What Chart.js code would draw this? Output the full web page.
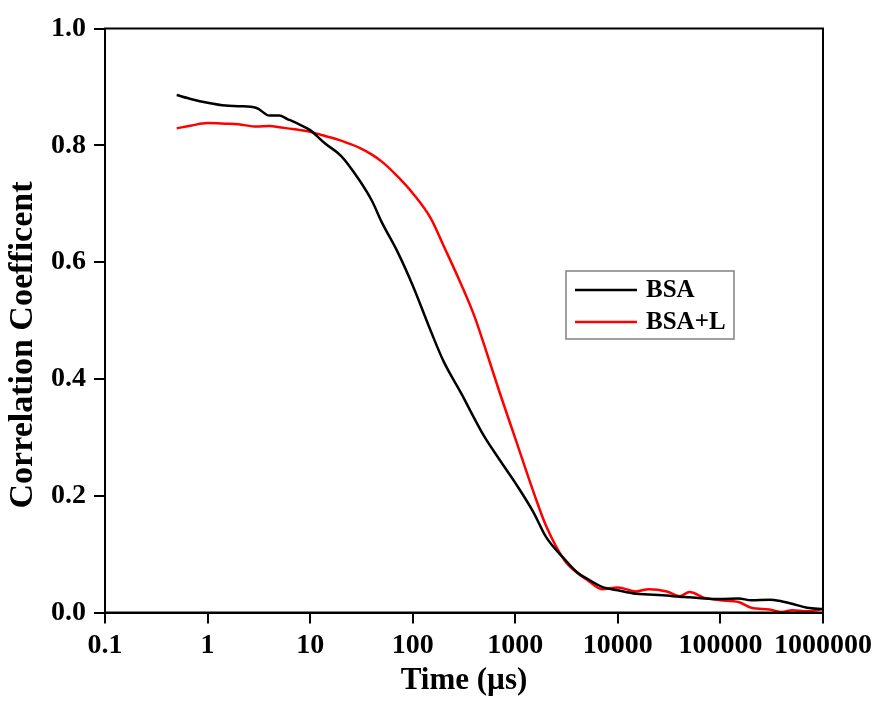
<!DOCTYPE html>
<html>
<head>
<meta charset="utf-8">
<script src="https://cdn.jsdelivr.net/npm/chart.js@4/dist/chart.umd.min.js"></script>
<style>
  html, body { margin: 0; padding: 0; background: #fff; }
  #wrap { width: 875px; height: 705px; position: relative; }
</style>
</head>
<body>
<div id="wrap"><canvas id="dlsChart"></canvas></div>
<script>
/* Global Variables */
let times = [0.5, 0.7, 1, 1.5, 2, 3, 4, 5, 6, 8, 10, 14, 20, 30, 40, 50, 70, 100, 150, 200,
  300, 400, 500, 700, 1000, 1500, 2000, 3000, 4000, 5000, 7000, 10000, 15000, 20000,
  30000, 40000, 50000, 70000, 100000, 150000, 200000, 300000, 400000, 500000, 700000, 1000000];
let bsa = [0.886, 0.879, 0.873, 0.868, 0.867, 0.864, 0.851, 0.851, 0.845, 0.835, 0.826, 0.803,
  0.782, 0.741, 0.705, 0.668, 0.620, 0.560, 0.482, 0.430, 0.374, 0.332, 0.301, 0.262, 0.222,
  0.172, 0.129, 0.092, 0.069, 0.058, 0.044, 0.038, 0.032, 0.031, 0.029, 0.027, 0.026, 0.024,
  0.023, 0.024, 0.021, 0.022, 0.019, 0.015, 0.008, 0.006];
let bsaL = [0.829, 0.834, 0.838, 0.837, 0.836, 0.832, 0.833, 0.831, 0.829, 0.826, 0.823, 0.816,
  0.808, 0.796, 0.784, 0.772, 0.748, 0.718, 0.675, 0.628, 0.560, 0.507, 0.457, 0.378, 0.298,
  0.207, 0.148, 0.090, 0.068, 0.056, 0.040, 0.043, 0.036, 0.040, 0.036, 0.028, 0.035, 0.025,
  0.021, 0.018, 0.008, 0.005, 0.001, 0.004, 0.002, 0.006];
let seriesNames = ['BSA', 'BSA+L'];
let seriesColors = ['#000000', '#ff0000'];
let xTicks = [0.1, 1, 10, 100, 1000, 10000, 100000, 1000000];
let xTickLabels = ['0.1', '1', '10', '100', '1000', '10000', '100000', '1000000'];
let yTitle = 'Correlation Coefficent';

let serif = "'Liberation Serif', 'Times New Roman', serif";

function toPoints(ys) {
  return times.map((t, i) => ({ x: t, y: ys[i] }));
}

// box round the plot, y title and legend
let framePlugin = {
  id: 'frame',
  afterDatasetsDraw(chart) {
    let a = chart.chartArea;
    let ctx = chart.ctx;
    ctx.save();
    ctx.strokeStyle = '#000';
    ctx.lineWidth = 2;
    ctx.strokeRect(a.left, a.top, a.right - a.left, a.bottom - a.top);

    // y axis title, sits a bit below the middle in the original
    ctx.save();
    ctx.translate(23, 345);
    ctx.rotate(-Math.PI / 2);
    ctx.font = 'bold 34px ' + serif;
    ctx.textAlign = 'center';
    ctx.textBaseline = 'middle';
    ctx.fillStyle = '#000';
    ctx.fillText(yTitle, 0, 0);
    ctx.restore();

    // legend
    ctx.strokeStyle = '#808080';
    ctx.lineWidth = 1.5;
    ctx.strokeRect(566, 271, 168, 68);
    ctx.font = 'bold 25px ' + serif;
    ctx.textBaseline = 'middle';
    ctx.fillStyle = '#000';
    chart.data.datasets.forEach((ds, i) => {
      let y = 290 + i * 32;
      ctx.strokeStyle = ds.borderColor;
      ctx.lineWidth = 2.5;
      ctx.beginPath();
      ctx.moveTo(575, y);
      ctx.lineTo(637, y);
      ctx.stroke();
      ctx.fillText(ds.label, 646, y + 1);
    });
    ctx.restore();
  },
};

let ctx = document.getElementById('dlsChart').getContext('2d');
let dlsChart = new Chart(ctx, {
  type: 'line',
  data: {
    datasets: [
      {
        label: seriesNames[0],
        data: toPoints(bsa),
        borderColor: seriesColors[0],
        borderWidth: 2.5,
        pointRadius: 0,
        cubicInterpolationMode: 'monotone',
        fill: false,
      },
      {
        label: seriesNames[1],
        data: toPoints(bsaL),
        borderColor: seriesColors[1],
        borderWidth: 2.5,
        pointRadius: 0,
        cubicInterpolationMode: 'monotone',
        fill: false,
      },
    ],
  },
  options: {
    responsive: true,
    maintainAspectRatio: false,
    animation: false,
    layout: {
      padding: { top: 28.5, right: 52, left: 0, bottom: 0 },
    },
    plugins: {
      legend: { display: false },
      tooltip: { enabled: false },
    },
    scales: {
      x: {
        type: 'logarithmic',
        min: 0.1,
        max: 1000000,
        afterBuildTicks: (scale) => {
          scale.ticks = xTicks.map((v) => ({ value: v }));
        },
        afterFit: (scale) => {
          scale.height = 92.5;
          // last label may run past the box, like the original
          scale.paddingLeft = 0;
          scale.paddingRight = 0;
        },
        grid: {
          drawOnChartArea: false,
          drawTicks: true,
          tickLength: 11,
          color: '#000',
          lineWidth: 2,
        },
        border: { display: true, color: '#000', width: 2 },
        ticks: {
          color: '#000',
          padding: 5,
          maxRotation: 0,
          autoSkip: false,
          font: { family: serif, size: 28, weight: 'bold' },
          callback: (v) => xTickLabels[xTicks.indexOf(v)],
        },
        title: {
          display: true,
          text: 'Time (\u00b5s)',
          color: '#000',
          font: { family: serif, size: 31, weight: 'bold' },
          padding: { top: 0, bottom: 5 },
        },
      },
      y: {
        min: 0,
        max: 1,
        afterFit: (scale) => {
          scale.width = 105;
          scale.paddingTop = 0;
          scale.paddingBottom = 0;
        },
        grid: {
          drawOnChartArea: false,
          drawTicks: true,
          tickLength: 11,
          color: '#000',
          lineWidth: 2,
        },
        border: { display: true, color: '#000', width: 2 },
        ticks: {
          stepSize: 0.2,
          color: '#000',
          padding: 8,
          font: { family: serif, size: 28, weight: 'bold' },
          callback: (v) => v.toFixed(1),
        },
      },
    },
  },
  plugins: [framePlugin],
});
</script>
</body>
</html>
